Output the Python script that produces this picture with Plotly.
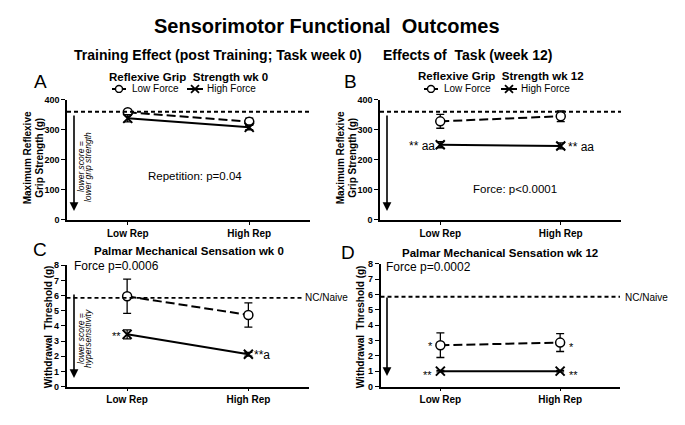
import plotly.graph_objects as go

W, H = 685, 425

# ---------------- data ----------------
categories = ["Low Rep", "High Rep"]
cat_x = [0, 1]

# Panel A: Reflexive grip strength wk 0 (g)
a_low_force = [358, 327]
a_low_force_err = [6, 12]
a_high_force = [338, 308]
a_high_force_err = [12, 8]

# Panel B: Reflexive grip strength wk 12 (g)
b_low_force = [328, 345]
b_low_force_err = [23, 18]
b_high_force = [250, 246]
b_high_force_err = [10, 10]

# Panel C: Palmar mechanical sensation wk 0 (g)
c_low_force = [5.95, 4.72]
c_low_force_err = [1.13, 0.80]
c_high_force = [3.44, 2.13]
c_high_force_err = [0.30, 0.12]

# Panel D: Palmar mechanical sensation wk 12 (g)
d_low_force = [2.69, 2.86]
d_low_force_err = [0.80, 0.58]
d_high_force = [1.0, 1.0]
d_high_force_err = [0.05, 0.05]

grip_naive = 360
sens_naive = 5.85

grip_ticks = [0, 100, 200, 300, 400]
sens_ticks = [0, 1, 2, 3, 4, 5, 6, 7, 8]

FONT = "Arial, 'Liberation Sans', sans-serif"


def X(px):
    return px / W


def Y(py):
    return 1 - py / H


fig = go.Figure()

panels = [
    ("", (67, 310), (97, 220), [0, 400], grip_ticks,
     a_low_force, a_low_force_err, a_high_force, a_high_force_err),
    ("2", (380, 621), (97, 220), [0, 400], grip_ticks,
     b_low_force, b_low_force_err, b_high_force, b_high_force_err),
    ("3", (66.5, 309), (266.5, 390.7), [0, 8], sens_ticks,
     c_low_force, c_low_force_err, c_high_force, c_high_force_err),
    ("4", (380.5, 620), (265, 390.7), [0, 8], sens_ticks,
     d_low_force, d_low_force_err, d_high_force, d_high_force_err),
]

layout_axes = {}
for key, (x0, x1), (ytop, ybot), yr, ticks, lf, lfe, hf, hfe in panels:
    xa = "x" + key
    ya = "y" + key
    fig.add_trace(go.Scatter(
        x=cat_x, y=lf, xaxis=xa, yaxis=ya, mode="lines+markers",
        line=dict(color="black", width=2, dash="9px,4px"),
        marker=dict(symbol="circle", size=9, color="white",
                    line=dict(color="black", width=1.5)),
        error_y=dict(type="data", array=lfe, width=4, thickness=1.3, color="black"),
        showlegend=False, cliponaxis=False,
    ))
    fig.add_trace(go.Scatter(
        x=cat_x, y=hf, xaxis=xa, yaxis=ya, mode="lines+markers",
        line=dict(color="black", width=2),
        marker=dict(symbol="x-thin", size=9,
                    line=dict(color="black", width=2)),
        error_y=dict(type="data", array=hfe, width=4, thickness=1.3, color="black"),
        showlegend=False, cliponaxis=False,
    ))
    layout_axes["xaxis" + key] = dict(
        domain=[X(x0), X(x1)], anchor=ya, range=[-0.5, 1.5],
        tickvals=cat_x, ticktext=categories,
        showline=True, linecolor="black", linewidth=1.5,
        ticks="outside", ticklen=3, tickwidth=1.2, tickcolor="black",
        showgrid=False, zeroline=False, fixedrange=True,
        tickfont=dict(family=FONT, size=10, color="black", weight="bold"),
    )
    layout_axes["yaxis" + key] = dict(
        domain=[Y(ybot), Y(ytop)], anchor=xa, range=yr,
        tickvals=ticks, ticktext=[str(t) for t in ticks],
        showline=True, linecolor="black", linewidth=1.5,
        ticks="outside", ticklen=4, tickwidth=1.2, tickcolor="black",
        showgrid=False, zeroline=False, fixedrange=True,
        tickfont=dict(family=FONT, size=9, color="black", weight="bold"),
    )

fig.update_layout(**layout_axes)

shapes = []
for xr, yr_, x1v, yv in [("x", "y", 1.5, grip_naive), ("x2", "y2", 1.5, grip_naive),
                         ("x3", "y3", 1.45, sens_naive), ("x4", "y4", 1.5, sens_naive)]:
    shapes.append(dict(type="line", xref=xr, yref=yr_, x0=-0.5, x1=x1v,
                       y0=yv, y1=yv,
                       line=dict(color="black", width=1.8, dash="4px,3px")))


def legend_row(x_circ0, x_circ1, x_x0, x_x1, py):
    out = []
    yc = Y(py)
    out.append(dict(type="line", xref="paper", yref="paper", x0=X(x_circ0), x1=X(x_circ1),
                    y0=yc, y1=yc, line=dict(color="black", width=2)))
    cx = (x_circ0 + x_circ1) / 2
    out.append(dict(type="circle", xref="paper", yref="paper",
                    x0=X(cx - 3.5), x1=X(cx + 3.5), y0=Y(py + 3.5), y1=Y(py - 3.5),
                    fillcolor="white", line=dict(color="black", width=1.4)))
    out.append(dict(type="line", xref="paper", yref="paper", x0=X(x_x0), x1=X(x_x1),
                    y0=yc, y1=yc, line=dict(color="black", width=2)))
    xx = (x_x0 + x_x1) / 2
    for s in (1, -1):
        out.append(dict(type="line", xref="paper", yref="paper",
                        x0=X(xx - 4), x1=X(xx + 4), y0=Y(py - 4 * s), y1=Y(py + 4 * s),
                        line=dict(color="black", width=1.8)))
    return out


shapes += legend_row(112, 126, 187, 203, 86)
shapes += legend_row(424, 438, 501, 517, 86)
fig.update_layout(shapes=shapes)

ann = []


def txt(text, px, py, size=10, bold=False, italic=False, xanchor="center",
        yanchor="middle", angle=0):
    t = text
    if italic:
        t = "<i>" + t + "</i>"
    ann.append(dict(text=t, x=X(px), y=Y(py), xref="paper", yref="paper",
                    showarrow=False, xanchor=xanchor, yanchor=yanchor,
                    textangle=angle,
                    font=dict(family=FONT, size=size, color="black",
                              weight="bold" if bold else "normal")))


txt("Sensorimotor Functional  Outcomes", 327, 22, size=20, bold=True)
txt("Training Effect (post Training; Task week 0)", 218, 51, size=14, bold=True)
txt("Effects of  Task (week 12)", 467, 51, size=14, bold=True)

txt("A", 40, 78, size=19)
txt("B", 350, 78, size=19)
txt("C", 40, 250, size=19)
txt("D", 348, 253, size=19)

txt("Reflexive Grip  Strength wk 0", 188, 74, size=11.5, bold=True)
txt("Reflexive Grip  Strength wk 12", 501, 73, size=11.5, bold=True)
txt("Palmar Mechanical Sensation wk 0", 189, 252, size=11.5, bold=True)
txt("Palmar Mechanical Sensation wk 12", 500, 254, size=11.5, bold=True)

txt("Low Force", 130, 86, size=10, xanchor="left")
txt("High Force", 205, 86, size=10, xanchor="left")
txt("Low Force", 442, 86, size=10, xanchor="left")
txt("High Force", 519, 86, size=10, xanchor="left")

# y axis titles
txt("Maximum Reflexive", 27, 157, size=10, bold=True, angle=-90)
txt("Grip Strength (g)", 39.5, 157, size=10, bold=True, angle=-90)
txt("Maximum Reflexive", 340, 157, size=10, bold=True, angle=-90)
txt("Grip Strength (g)", 352.5, 157, size=10, bold=True, angle=-90)
txt("Withdrawal  Threshold (g)", 48, 330, size=10, bold=True, angle=-90)
txt("Withdrawal  Threshold (g)", 360, 330, size=10, bold=True, angle=-90)

# arrow notes
txt("lower score =", 81, 166, size=8.5, italic=True, angle=-90)
txt("lower grip strength", 88, 166, size=8.5, italic=True, angle=-90)
txt("lower score =", 81, 342, size=8.5, italic=True, angle=-90)
txt("hypersensitivity", 88, 342, size=8.5, italic=True, angle=-90)

txt("Repetition: p=0.04", 195, 175, size=11.5)
txt("Force: p<0.0001", 515, 188, size=11.5)
txt("Force p=0.0006", 72, 267, size=12, xanchor="left")
txt("Force p=0.0002", 384, 268, size=12, xanchor="left")
txt("NC/Naive", 303, 300, size=10, xanchor="left")
txt("NC/Naive", 623, 300, size=10, xanchor="left")

txt("** aa", 437, 144, size=12, xanchor="right")
txt("** aa", 566, 145, size=12, xanchor="left")
txt("**", 123, 339, size=11, xanchor="right")
txt("**a", 252, 358, size=12, xanchor="left")
txt("*", 435, 349, size=11, xanchor="right")
txt("*", 567, 350, size=11, xanchor="left")
txt("**", 434, 379, size=11, xanchor="right")
txt("**", 567, 379, size=11, xanchor="left")

for (ax_px, top, tip) in [(74, 114, 211), (387, 114, 211), (74, 297, 382), (387, 300, 380)]:
    ann.append(dict(x=X(ax_px), y=Y(tip), ax=0, ay=-(tip - top),
                    xref="paper", yref="paper", axref="pixel", ayref="pixel",
                    text="", showarrow=True, arrowhead=2, arrowsize=1.1,
                    arrowwidth=1.6, arrowcolor="black"))

fig.update_layout(
    annotations=ann,
    width=W, height=H,
    margin=dict(l=0, r=0, t=0, b=0),
    paper_bgcolor="white", plot_bgcolor="white",
    font=dict(family=FONT, color="black"),
    showlegend=False,
)

fig.write_html("out.html", config={"displayModeBar": False},
               post_script="document.body.style.margin='0';")
